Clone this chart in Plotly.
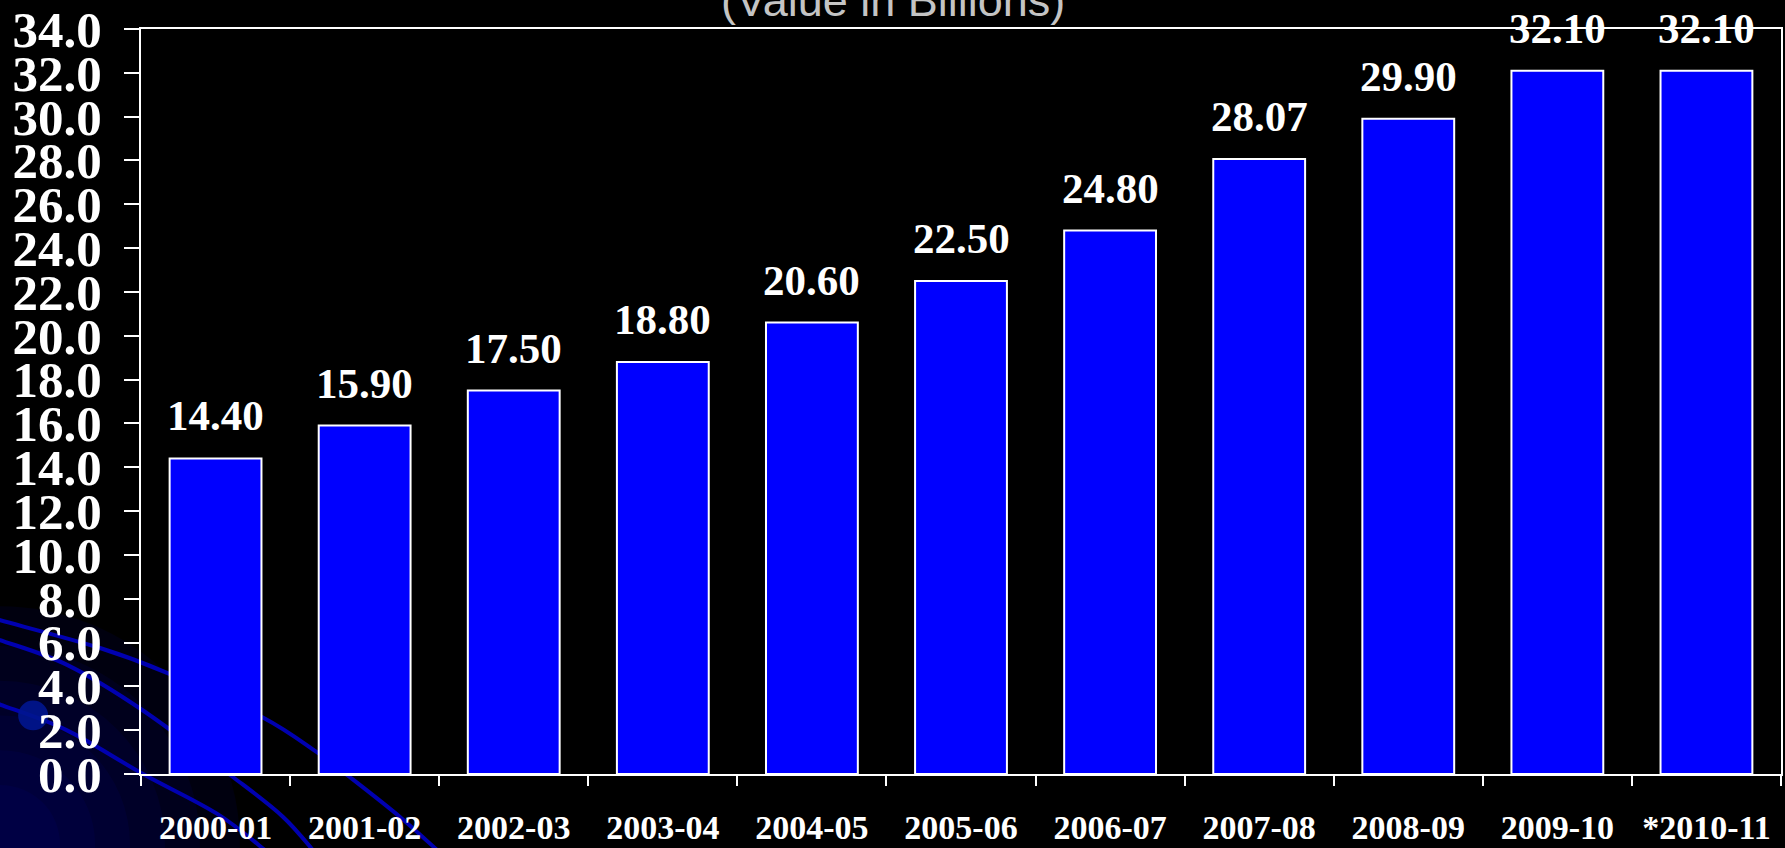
import plotly.graph_objects as go

# Export value per financial year (billions)
years = ["2000-01", "2001-02", "2002-03", "2003-04", "2004-05", "2005-06",
         "2006-07", "2007-08", "2008-09", "2009-10", "*2010-11"]
values = [14.40, 15.90, 17.50, 18.80, 20.60, 22.50, 24.80, 28.07, 29.90, 32.10, 32.10]
y_ticks = [0, 2, 4, 6, 8, 10, 12, 14, 16, 18, 20, 22, 24, 26, 28, 30, 32, 34]
subtitle = "(Value in Billions)"

# Canvas and plot-area geometry (pixels)
W, H = 1785, 848
LEFT, RIGHT, TOP, BOTTOM = 141, 1783, 26, 777
PW, PH = RIGHT - LEFT, BOTTOM - TOP


def px(x):
    return (x - LEFT) / PW


def py(y):
    return (BOTTOM - y) / PH


def smooth_path(points):
    """Catmull-Rom spline through pixel points, returned as a paper-space SVG path."""
    pts = [(px(x), py(y)) for x, y in points]
    d = f"M {pts[0][0]:.5f},{pts[0][1]:.5f}"
    for i in range(len(pts) - 1):
        p0 = pts[i - 1] if i > 0 else pts[i]
        p1, p2 = pts[i], pts[i + 1]
        p3 = pts[i + 2] if i + 2 < len(pts) else pts[i + 1]
        c1 = (p1[0] + (p2[0] - p0[0]) / 6, p1[1] + (p2[1] - p0[1]) / 6)
        c2 = (p2[0] - (p3[0] - p1[0]) / 6, p2[1] - (p3[1] - p1[1]) / 6)
        d += f" C {c1[0]:.5f},{c1[1]:.5f} {c2[0]:.5f},{c2[1]:.5f} {p2[0]:.5f},{p2[1]:.5f}"
    return d


serif = "Liberation Serif, Times New Roman, serif"
sans = "Liberation Sans, Arial, sans-serif"

fig = go.Figure()
fig.add_trace(go.Bar(
    x=years, y=values,
    marker=dict(color="#0000FF", line=dict(color="white", width=2)),
    hoverinfo="skip",
))

# Value labels above each bar
for yr, v in zip(years, values):
    fig.add_annotation(
        x=yr, y=v, text=f"{v:.2f}", showarrow=False,
        yanchor="bottom", yshift=17,
        font=dict(family=serif, size=43, color="white", weight="bold"),
    )

# Subtitle, partly cut off at the top edge
fig.add_annotation(
    xref="paper", yref="paper", x=px(894), y=py(-3),
    text=subtitle, showarrow=False, xanchor="center", yanchor="middle",
    font=dict(family=sans, size=45, color="#c4c4c4"),
)

# Background decoration: corner glow, swooping arcs and a dot
shapes = []
for r in [240, 200, 165, 130, 95, 60]:
    shapes.append(dict(
        type="circle", xref="paper", yref="paper", layer="below",
        x0=px(-r), x1=px(r), y0=py(H + r), y1=py(H - r),
        fillcolor="#000090", opacity=0.1, line=dict(width=0),
    ))
arcs = [
    [(-10, 619), (0, 622), (100, 650), (167, 675), (263, 720), (317, 755),
     (350, 780), (400, 820), (440, 856)],
    [(-10, 638), (0, 642), (67, 667), (143, 713), (233, 780), (283, 820), (315, 856)],
    [(-10, 703), (0, 707), (67, 733), (143, 777), (217, 817), (268, 856)],
]
for pts in arcs:
    shapes.append(dict(
        type="path", xref="paper", yref="paper", layer="below",
        path=smooth_path(pts), line=dict(color="#0000b0", width=4),
    ))
shapes.append(dict(
    type="circle", xref="paper", yref="paper", layer="below",
    x0=px(18), x1=px(48), y0=py(733), y1=py(703),
    fillcolor="#00158f", opacity=0.9, line=dict(width=0),
))

fig.update_layout(
    width=W, height=H, autosize=False,
    margin=dict(l=LEFT, r=W - RIGHT, t=TOP, b=H - BOTTOM, pad=0),
    paper_bgcolor="black", plot_bgcolor="rgba(0,0,0,0)",
    bargap=0.384, showlegend=False, shapes=shapes,
    xaxis=dict(
        type="category", range=[-0.5, len(years) - 0.5],
        showline=True, linecolor="white", linewidth=2, mirror=True,
        ticks="outside", tickson="boundaries", ticklen=10, tickwidth=2, tickcolor="white",
        showgrid=False, zeroline=False, ticklabelstandoff=22,
        tickfont=dict(family=serif, size=34, color="white", weight="bold"),
    ),
    yaxis=dict(
        range=[0, 34], tickmode="array", tickvals=y_ticks,
        ticktext=[f"{t:.1f}" for t in y_ticks],
        showline=True, linecolor="white", linewidth=2, mirror=True,
        ticks="outside", ticklen=15, tickwidth=2, tickcolor="white",
        showgrid=False, zeroline=False, ticklabelstandoff=12,
        ticklabeloverflow="allow",
        tickfont=dict(family=serif, size=51, color="white", weight="bold"),
    ),
)

fig.write_html("out.html")
